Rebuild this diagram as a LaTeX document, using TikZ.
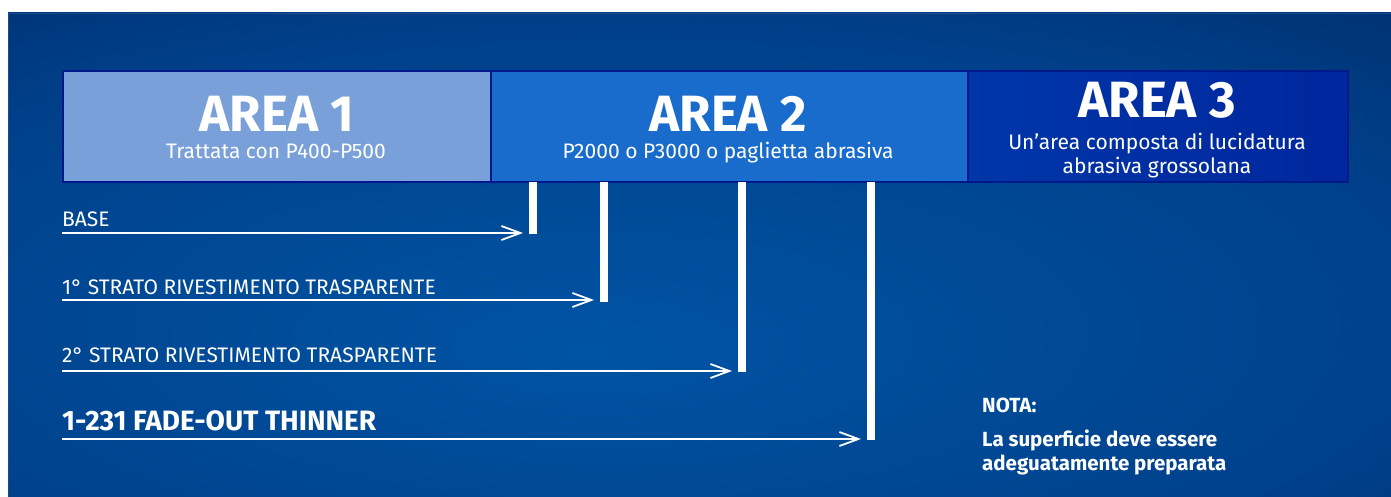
\documentclass[tikz,border=0pt]{standalone}
\usepackage{fontspec}
\setmainfont{Fira Sans}
\usetikzlibrary{arrows.meta}
\definecolor{bgin}{HTML}{0054A4}
\definecolor{bgq}{HTML}{00408A}
\definecolor{bgmid}{HTML}{002862}
\definecolor{bgout}{HTML}{00184A}
\definecolor{bgedge}{HTML}{1C4A90}
\definecolor{aone}{HTML}{79A0D9}
\definecolor{atwo}{HTML}{196BCC}
\definecolor{athreeL}{HTML}{0036A8}
\definecolor{athreeR}{HTML}{00279D}
\definecolor{aborder}{HTML}{00198A}
\pgfdeclareradialshading{bgshade}{\pgfpoint{-4bp}{-10bp}}{color(0bp)=(bgin); color(30bp)=(bgq); color(50bp)=(bgmid); color(72bp)=(bgout); color(90bp)=(bgout)}
\tikzset{
  areabox/.style={draw=aborder, line width=2pt, minimum height=111pt, inner sep=0pt, anchor=north west},
  bigtitle/.style={text=white, font=\fontsize{51}{51}\selectfont\bfseries, inner sep=0pt, anchor=base, text depth=0pt},
  subtitle/.style={text=white, font=\fontsize{21}{24}\selectfont, inner sep=0pt, anchor=base},
  layerbar/.style={fill=white, draw=none, minimum width=8pt, inner sep=0pt, anchor=north west},
  layertext/.style={text=white, font=\fontsize{21}{22}\selectfont, inner sep=0pt, anchor=base west},
  layerarrow/.style={draw=white, line width=1.8pt, -{Straight Barb[length=19pt,width=14pt,line width=1.8pt]}, shorten >=6pt},
  notetext/.style={text=white, font=\fontsize{20.5}{24}\selectfont\bfseries, inner sep=0pt, anchor=base west}
}
\begin{document}
\begin{tikzpicture}[x=1pt,y=-1pt]
\useasboundingbox (0,0) rectangle (1391,497);
\fill[white] (0,0) rectangle (1391,497);
\shade[shading=bgshade] (8,13) rectangle (1391,497);
\draw[bgedge, line width=1pt] (8.5,497) -- (8.5,13.5) -- (1391,13.5);
% area boxes
\node[areabox, fill=aone, minimum width=428pt] (a1) at (62,70) {};
\node[areabox, fill=atwo, minimum width=477pt] (a2) at (490,70) {};
\node[areabox, left color=athreeL, right color=athreeR, minimum width=380pt] (a3) at (967,70) {};
% titles
\node[bigtitle] (t1) at (277,132) {AREA 1};
\node[subtitle] (s1) at (276,159) {Trattata con P400-P500};
\node[bigtitle] (t2) at (728,132) {AREA 2};
\node[subtitle] (s2) at (728,159) {P2000 o P3000 o paglietta abrasiva};
\node[bigtitle] (t3) at (1157,118) {AREA 3};
\node[subtitle] (s3a) at (1157,150) {Un'area composta di lucidatura};
\node[subtitle] (s3b) at (1157,174) {abrasiva grossolana};
% bars
\node[layerbar, minimum height=52pt] (b1) at (529,182) {};
\node[layerbar, minimum height=120pt] (b2) at (600,182) {};
\node[layerbar, minimum height=190pt] (b3) at (738,182) {};
\node[layerbar, minimum height=258pt] (b4) at (867,182) {};
% labels
\node[layertext] (l1) at (62,226) {BASE};
\node[layertext] (l2) at (62,294) {1° STRATO RIVESTIMENTO TRASPARENTE};
\node[layertext] (l3) at (62,362) {2° STRATO RIVESTIMENTO TRASPARENTE};
\node[layertext, font=\fontsize{28}{30}\selectfont\bfseries] (l4) at (62,430) {1-231 FADE-OUT THINNER};
% arrows
\coordinate (p1) at (62,233);
\coordinate (p2) at (62,300);
\coordinate (p3) at (62,371);
\coordinate (p4) at (62,439);
\draw[layerarrow] (p1) -- (p1 -| b1.west);
\draw[layerarrow] (p2) -- (p2 -| b2.west);
\draw[layerarrow] (p3) -- (p3 -| b3.west);
\draw[layerarrow] (p4) -- (p4 -| b4.west);
% note
\node[notetext] (n1) at (982,412) {NOTA:};
\node[notetext] (n2) at (982,446) {La superficie deve essere};
\node[notetext] (n3) at (982,470) {adeguatamente preparata};
\end{tikzpicture}
\end{document}
